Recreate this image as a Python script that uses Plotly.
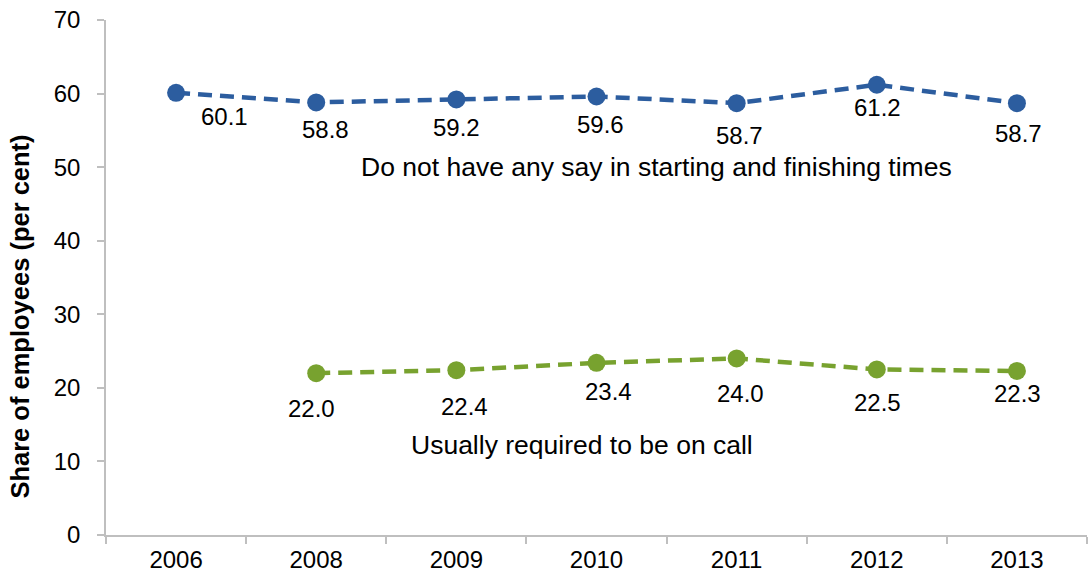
import plotly.graph_objects as go

years = ["2006", "2008", "2009", "2010", "2011", "2012", "2013"]
no_say = [60.1, 58.8, 59.2, 59.6, 58.7, 61.2, 58.7]
on_call_years = ["2008", "2009", "2010", "2011", "2012", "2013"]
on_call = [22.0, 22.4, 23.4, 24.0, 22.5, 22.3]
y_ticks = [0, 10, 20, 30, 40, 50, 60, 70]

series_names = ["Do not have any say in starting and finishing times",
                "Usually required to be on call"]

# label offsets (pixels) for the value labels
blue_dx = [48, 9, 0, 4, 3, 1, 2]
blue_dy = [24, 27, 28, 28, 32, 23, 30]
green_dx = [-5, 8, 12, 4, 1, 1]
green_dy = [35, 36, 29, 35, 33, 23]

BLUE = "#2C5D9F"
GREEN = "#78A22F"
FONT = "Liberation Sans, Arial, sans-serif"

fig = go.Figure()
fig.add_trace(go.Scatter(
    x=years, y=no_say, mode="lines+markers", name=series_names[0],
    line=dict(color=BLUE, width=4.5, dash="14px,8px"),
    marker=dict(color=BLUE, size=18),
))
fig.add_trace(go.Scatter(
    x=on_call_years, y=on_call, mode="lines+markers", name=series_names[1],
    line=dict(color=GREEN, width=4.5, dash="14px,8px"),
    marker=dict(color=GREEN, size=18),
))

annotations = []
for x, v, dx, dy in zip(years, no_say, blue_dx, blue_dy):
    annotations.append(dict(x=years.index(x), y=v, text=f"{v:.1f}", showarrow=False,
                            xshift=dx, yshift=-dy,
                            font=dict(family=FONT, size=24, color="#000000")))
for x, v, dx, dy in zip(on_call_years, on_call, green_dx, green_dy):
    annotations.append(dict(x=years.index(x), y=v, text=f"{v:.1f}", showarrow=False,
                            xshift=dx, yshift=-dy,
                            font=dict(family=FONT, size=24, color="#000000")))

annotations.append(dict(xref="paper", yref="y", x=0.5607, y=50.0,
                        text=series_names[0], showarrow=False,
                        xanchor="center", yanchor="middle",
                        font=dict(family=FONT, size=26.5, color="#000000")))
annotations.append(dict(xref="paper", yref="y", x=0.4852, y=12.3,
                        text=series_names[1], showarrow=False,
                        xanchor="center", yanchor="middle",
                        font=dict(family=FONT, size=26.5, color="#000000")))
annotations.append(dict(xref="paper", yref="paper", x=-0.0877, y=0.424,
                        text="<b>Share of employees (per cent)</b>", showarrow=False,
                        textangle=-90, xanchor="center", yanchor="middle",
                        font=dict(family=FONT, size=25.5, color="#000000")))

fig.update_layout(
    width=1090, height=576,
    margin=dict(l=106, r=3, t=20, b=41, autoexpand=False),
    paper_bgcolor="white", plot_bgcolor="white",
    showlegend=False,
    annotations=annotations,
    font=dict(family=FONT, color="#000000"),
)
fig.update_xaxes(
    type="category", categoryorder="array", categoryarray=years,
    range=[-0.5, 6.5],
    showline=True, linecolor="#BFBFBF", linewidth=1.5,
    ticks="outside", tickson="boundaries", ticklen=7, tickcolor="#BFBFBF", tickwidth=1.5,
    showgrid=False, zeroline=False,
    tickfont=dict(family=FONT, size=24, color="#000000"),
    ticklabelstandoff=2,
)
fig.update_yaxes(
    range=[0, 70], tickvals=y_ticks,
    showline=True, linecolor="#BFBFBF", linewidth=1.5,
    ticks="outside", ticklen=7, tickcolor="#BFBFBF", tickwidth=1.5,
    showgrid=False, zeroline=False,
    tickfont=dict(family=FONT, size=24, color="#000000"),
    ticklabelstandoff=12,
)

fig.write_html("out.html", config={"displayModeBar": False})
with open("out.html", "r", encoding="utf-8") as f:
    html = f.read()
html = html.replace("<body>", '<body style="margin:0;padding:0;overflow:hidden">', 1)
with open("out.html", "w", encoding="utf-8") as f:
    f.write(html)
